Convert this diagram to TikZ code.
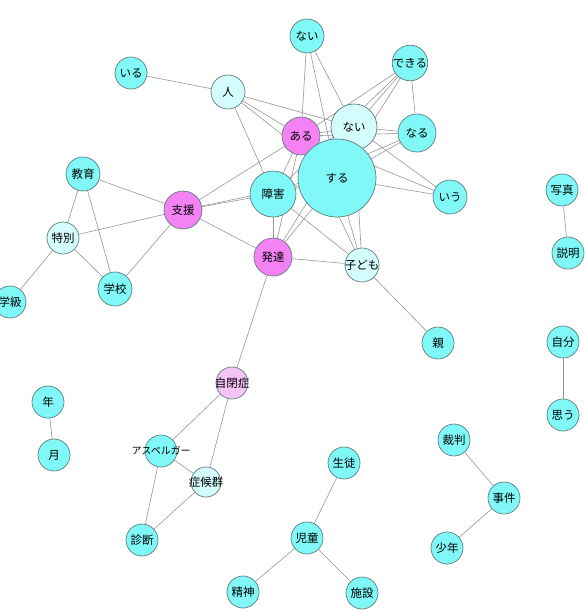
\documentclass[tikz,border=0pt]{standalone}
\usepackage{fontspec}
\newfontfamily\jfont{Noto Sans CJK JP}
\usetikzlibrary{backgrounds}
\definecolor{cyn}{RGB}{128,248,248}
\definecolor{lcyn}{RGB}{212,252,252}
\definecolor{pnk}{RGB}{245,130,245}
\definecolor{lpnk}{RGB}{246,196,246}
\definecolor{bord}{RGB}{95,125,125}
\definecolor{edg}{RGB}{150,150,150}
\tikzset{
  wn/.style={circle,draw=bord,line width=0.7pt,inner sep=0pt,minimum size=#1*2pt,font=\jfont\fontsize{11.5}{13}\selectfont,text=black},
  cn/.style={wn=#1,fill=cyn},
  ln/.style={wn=#1,fill=lcyn},
  pn/.style={wn=#1,fill=pnk},
  lpn/.style={wn=#1,fill=lpnk},
  ed/.style={draw=edg,line width=0.6pt}
}
\begin{document}
\begin{tikzpicture}[x=1pt,y=-1pt]
\useasboundingbox (0,0) rectangle (585,611);
% central
\node[cn=17] (naiT) at (307,36) {ない};
\node[cn=17] (dekiru) at (410,63) {できる};
\node[cn=16] (iru) at (131,73) {いる};
\node[ln=17] (hito) at (228,92) {人};
\node[ln=23] (naiC) at (354,127) {ない};
\node[pn=19] (aru) at (301,136) {ある};
\node[cn=19] (naru) at (417,133) {なる};
\node[cn=39] (suru) at (337,178) {する};
\node[cn=23] (shougai) at (273,194) {障害};
\node[cn=17] (iu) at (450,197) {いう};
\node[cn=17] (kyouiku) at (83,174) {教育};
\node[pn=19] (shien) at (183,210) {支援};
\node[ln=16] (tokubetsu) at (63,238) {特別};
\node[pn=19] (hattatsu) at (273,257) {発達};
\node[ln=17] (kodomo) at (362,265) {\makebox[0pt]{子ども}};
\node[cn=16] (gakkyuu) at (10,302) {学級};
\node[cn=17] (gakkou) at (115,289) {学校};
\node[cn=16] (oya) at (438,343) {親};
% others
\node[cn=16] (shashin) at (562,190) {写真};
\node[cn=16] (setsumei) at (568,253) {説明};
\node[cn=16] (jibun) at (563,342) {自分};
\node[cn=16] (omou) at (563,415) {思う};
\node[cn=16] (nen) at (48,402) {年};
\node[cn=16] (tsuki) at (54,455) {月};
\node[lpn=16] (jiheishou) at (232,383) {\makebox[0pt]{自閉症}};
\node[cn=16] (asperger) at (161,451) {\makebox[0pt]{\fontsize{10}{12}\selectfont アスペルガー}};
\node[ln=15] (shoukougun) at (206,482) {\makebox[0pt]{症候群}};
\node[cn=16] (shindan) at (142,540) {診断};
\node[cn=16] (seito) at (344,463) {生徒};
\node[cn=16] (jidou) at (307,538) {児童};
\node[cn=16] (seishin) at (243,592) {精神};
\node[cn=16] (shisetsu) at (362,593) {施設};
\node[cn=16] (saiban) at (454,440) {裁判};
\node[cn=16] (jiken) at (504,498) {事件};
\node[cn=16] (shounen) at (447,548) {少年};
\begin{scope}[on background layer]
\foreach \a/\b in {iru/hito,hito/naiC,hito/aru,hito/suru,hito/shougai,
  naiT/aru,naiT/suru,naiT/naiC,
  dekiru/naiC,dekiru/suru,dekiru/aru,dekiru/naru,dekiru/shougai,
  naru/naiC,naru/aru,naru/suru,naru/shougai,
  iu/naiC,iu/suru,iu/aru,
  aru/naiC,aru/suru,naiC/suru,
  shien/kyouiku,shien/tokubetsu,shien/gakkou,shien/aru,shien/shougai,shien/suru,shien/hattatsu,
  kyouiku/tokubetsu,kyouiku/gakkou,tokubetsu/gakkou,tokubetsu/gakkyuu,
  shougai/hattatsu,shougai/suru,shougai/aru,shougai/kodomo,
  hattatsu/aru,hattatsu/suru,hattatsu/naiC,hattatsu/kodomo,hattatsu/jiheishou,
  suru/kodomo,naiC/kodomo,aru/kodomo,kodomo/oya,
  shashin/setsumei,jibun/omou,nen/tsuki,
  jiheishou/asperger,jiheishou/shoukougun,asperger/shoukougun,asperger/shindan,shoukougun/shindan,
  seito/jidou,jidou/seishin,jidou/shisetsu,saiban/jiken,jiken/shounen}
  \draw[ed] (\a) -- (\b);
\end{scope}
\end{tikzpicture}
\end{document}
